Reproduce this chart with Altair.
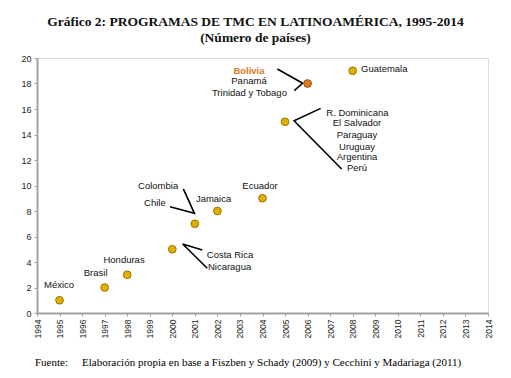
import altair as alt
import pandas as pd

# Data points
years = [1995, 1997, 1998, 2000, 2001, 2002, 2004, 2005, 2006, 2008]
counts = [1, 2, 3, 5, 7, 8, 9, 15, 18, 19]
highlight = [False, False, False, False, False, False, False, False, True, False]

# Annotation labels (data coordinates)
lab_text = ["México", "Brasil", "Honduras", "Colombia", "Chile", "Jamaica", "Ecuador",
            "Costa Rica", "Nicaragua", "Bolivia", "Panamá", "Trinidad y Tobago",
            "Guatemala", "R. Dominicana", "El Salvador", "Paraguay", "Uruguay",
            "Argentina", "Perú"]
lab_x = [1994.98, 1996.6, 1997.86, 1999.37, 1999.23, 2001.83, 2003.89,
         2002.56, 2002.54, 2003.4, 2003.4, 2003.42,
         2008.37, 2008.21, 2008.19, 2008.19, 2008.19, 2008.19, 2008.19]
lab_y = [2.2, 3.16, 4.16, 9.98, 8.65, 8.94, 9.98,
         4.55, 3.63, 19.0, 18.22, 17.28,
         19.14, 15.71, 14.93, 13.96, 13.04, 12.21, 11.37]
lab_align = ["center"] * 12 + ["left"] + ["center"] * 6
lab_bold = [False] * 9 + [True] + [False] * 9

# Connector polylines
con_group = [1, 1, 1, 2, 2, 2, 3, 3, 3, 4, 4, 4]
con_order = [0, 1, 2] * 4
con_x = [2004.66, 2005.78, 2005.41, 2006.58, 2005.40, 2007.51,
         2000.49, 2000.98, 1999.90, 2001.33, 2000.46, 2001.55]
con_y = [19.14, 18.02, 17.44, 16.05, 15.08, 11.29,
         9.73, 7.82, 8.34, 4.94, 5.41, 3.51]

pts = pd.DataFrame({"year": years, "n": counts, "hl": highlight})
labs = pd.DataFrame({"t": lab_text, "x": lab_x, "y": lab_y, "al": lab_align, "b": lab_bold})
cons = pd.DataFrame({"g": con_group, "o": con_order, "x": con_x, "y": con_y})

xscale = alt.Scale(domain=[1994, 2014], nice=False, zero=False)
yscale = alt.Scale(domain=[0, 20], nice=False)

xaxis = alt.Axis(values=list(range(1994, 2015)), labelAngle=270, labelAlign="right",
                 labelBaseline="middle", format="d", grid=False, domainColor="#a0a0a0",
                 domainWidth=2, tickColor="#a0a0a0", tickSize=3, labelFontSize=8.5,
                 labelColor="#222", labelFont="Liberation Sans", title=None, labelPadding=3,
                 labelOverlap=False, labelFlush=False)
yaxis = alt.Axis(values=list(range(0, 21, 2)), grid=False, domainColor="#a0a0a0",
                 domainWidth=2, tickColor="#a0a0a0", tickSize=3, labelFontSize=9,
                 labelColor="#222", labelFont="Liberation Sans", title=None, labelPadding=3,
                 labelOverlap=False, labelFlush=False)


def X(field):
    return alt.X(field, scale=xscale, axis=xaxis)


def Y(field):
    return alt.Y(field, scale=yscale, axis=yaxis)


base_pts = alt.Chart(pts).mark_circle(size=60, opacity=1, strokeWidth=1).encode(
    x=X("year:Q"),
    y=Y("n:Q"),
    fill=alt.condition("datum.hl", alt.value("#E07A22"), alt.value("#E0B000")),
    stroke=alt.condition("datum.hl", alt.value("#9A4A10"), alt.value("#9A7400")),
)

lines = alt.Chart(cons).mark_line(color="black", strokeWidth=1.6).encode(
    x=X("x:Q"),
    y=Y("y:Q"),
    detail="g:N",
    order="o:Q",
)


def label_layer(align, bold, color):
    d = labs[(labs["al"] == align) & (labs["b"] == bold)]
    return alt.Chart(d).mark_text(align=align, baseline="middle", fontSize=9.5,
                                  font="Liberation Sans",
                                  fontWeight="bold" if bold else "normal",
                                  color=color).encode(
        x=X("x:Q"), y=Y("y:Q"), text="t:N")


texts = label_layer("center", False, "#111") + label_layer("left", False, "#111") + \
    label_layer("center", True, "#E07A22")

footer = alt.Chart(pd.DataFrame({"t": ["Fuente:"]})).mark_text(
    align="left", baseline="alphabetic", fontSize=11, font="Liberation Serif", color="#000"
).encode(x=alt.value(-2), y=alt.value(308), text="t:N")
footer2 = alt.Chart(pd.DataFrame({"t": ["Elaboración propia en base a Fiszben y Schady (2009) y Cecchini y Madariaga (2011)"]})).mark_text(
    align="left", baseline="alphabetic", fontSize=11, font="Liberation Serif", color="#000"
).encode(x=alt.value(45), y=alt.value(308), text="t:N")

chart = alt.layer(lines, base_pts, texts, footer, footer2).properties(
    width=451, height=255,
    autosize=alt.AutoSizeParams(type="none"),
    padding={"left": 29, "top": 50, "right": 10, "bottom": 60},
    title=alt.TitleParams(
        text="Gráfico 2: PROGRAMAS DE TMC EN LATINOAMÉRICA, 1995-2014",
        subtitle="(Número de países)",
        font="Liberation Serif", fontSize=13.5, fontWeight="bold", color="#111",
        subtitleFont="Liberation Serif", subtitleFontSize=13.5, subtitleFontWeight="bold",
        subtitleColor="#111", anchor="middle", offset=10, dx=-7, subtitlePadding=2,
    ),
).configure_view(stroke=None).configure(background="white")

chart.save("out.html", embed_options={"renderer": "svg", "actions": False})
